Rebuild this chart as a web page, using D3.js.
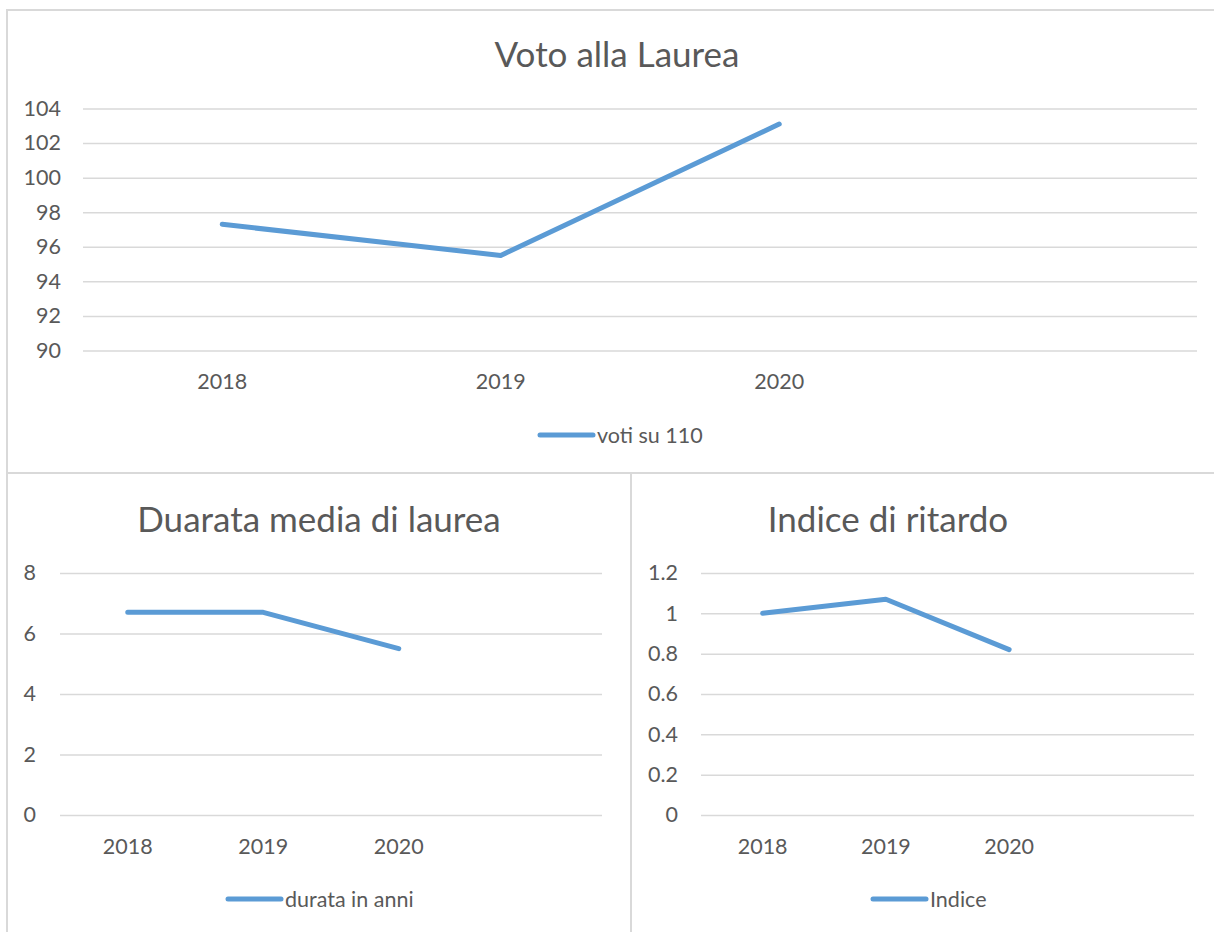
<!DOCTYPE html>
<html>
<head>
<meta charset="utf-8">
<script src="https://cdn.jsdelivr.net/npm/d3@7"></script>
<style>
  body { margin: 0; background: #fff; }
  svg text { font-family: Lato, "Open Sans", sans-serif; fill: #595959; }
</style>
</head>
<body>
<svg id="chart" width="1214" height="932"></svg>
<script>
// categories (4th slot is empty, as in the original workbook)
var years = ["2018", "2019", "2020", ""];

// series values
var votoValues = [97.3, 95.5, 103.1];
var durataValues = [6.7, 6.7, 5.5];
var indiceValues = [1.0, 1.07, 0.82];

// y tick labels
var votoTicks = [90, 92, 94, 96, 98, 100, 102, 104];
var durataTicks = [0, 2, 4, 6, 8];
var indiceTicks = [0, 0.2, 0.4, 0.6, 0.8, 1, 1.2];

var svg = d3.select("#chart"),
    lineColor = "#5b9bd5",
    gridColor = "#d9d9d9",
    labelSize = "21.5px";

// chart frames
svg.append("rect").attr("x", 7).attr("y", 10).attr("width", 1230).attr("height", 463)
    .attr("fill", "none").attr("stroke", gridColor).attr("stroke-width", 2);
svg.append("rect").attr("x", 7).attr("y", 473).attr("width", 624).attr("height", 480)
    .attr("fill", "none").attr("stroke", gridColor).attr("stroke-width", 2);
svg.append("rect").attr("x", 631).attr("y", 473).attr("width", 620).attr("height", 480)
    .attr("fill", "none").attr("stroke", gridColor).attr("stroke-width", 2);

function drawChart(opt) {
    var g = svg.append("g");

    var x = d3.scaleBand().domain(years).range([opt.left, opt.right]);
    var y = d3.scaleLinear().domain([opt.ticks[0], opt.ticks[opt.ticks.length - 1]])
        .range([opt.bottom, opt.top]);

    g.append("text")
        .attr("x", opt.titleX).attr("y", opt.titleY)
        .attr("text-anchor", "middle")
        .style("font-size", "35px")
        .text(opt.title);

    // gridlines
    var yAxis = d3.axisLeft(y).tickValues(opt.ticks)
        .tickSize(-(opt.right - opt.left)).tickPadding(opt.left - opt.labelRight)
        .tickFormat(function(d) { return String(+d.toFixed(1)); });

    var ya = g.append("g")
        .attr("transform", "translate(" + opt.left + ",0)")
        .call(yAxis);
    ya.select(".domain").remove();
    ya.selectAll(".tick line").attr("stroke", gridColor).attr("stroke-width", 1.5);
    ya.selectAll(".tick text")
        .style("font-size", labelSize).attr("fill", "#595959");

    var xAxis = d3.axisBottom(x).tickSize(0).tickPadding(opt.xLabelGap);
    var xa = g.append("g")
        .attr("transform", "translate(0," + opt.bottom + ")")
        .call(xAxis);
    xa.select(".domain").remove();
    xa.selectAll(".tick text").style("font-size", labelSize).attr("fill", "#595959");

    var line = d3.line()
        .x(function(d, i) { return x(years[i]) + x.bandwidth() / 2; })
        .y(function(d) { return y(d); });

    g.append("path")
        .datum(opt.values)
        .attr("d", line)
        .attr("fill", "none")
        .attr("stroke", lineColor)
        .attr("stroke-width", 5)
        .attr("stroke-linecap", "round")
        .attr("stroke-linejoin", "round");

    // legend
    g.append("line")
        .attr("x1", opt.legendX).attr("x2", opt.legendX + 53)
        .attr("y1", opt.legendY).attr("y2", opt.legendY)
        .attr("stroke", lineColor).attr("stroke-width", 5)
        .attr("stroke-linecap", "round");
    g.append("text")
        .attr("x", opt.legendX + 57).attr("y", opt.legendY)
        .attr("dy", "0.36em")
        .style("font-size", labelSize)
        .text(opt.legend);
}

drawChart({
    title: "Voto alla Laurea", titleX: 617, titleY: 67,
    left: 83, right: 1197, top: 108.5, bottom: 350.5, labelRight: 61, xLabelGap: 23,
    ticks: votoTicks, values: votoValues,
    legend: "voti su 110", legendX: 540, legendY: 435
});

drawChart({
    title: "Duarata media di laurea", titleX: 319, titleY: 532,
    left: 60, right: 602, top: 573, bottom: 815, labelRight: 36, xLabelGap: 24,
    ticks: durataTicks, values: durataValues,
    legend: "durata in anni", legendX: 228, legendY: 899
});

drawChart({
    title: "Indice di ritardo", titleX: 888, titleY: 532,
    left: 701, right: 1194, top: 573, bottom: 815, labelRight: 678, xLabelGap: 24,
    ticks: indiceTicks, values: indiceValues,
    legend: "Indice", legendX: 873, legendY: 899
});
</script>
</body>
</html>
